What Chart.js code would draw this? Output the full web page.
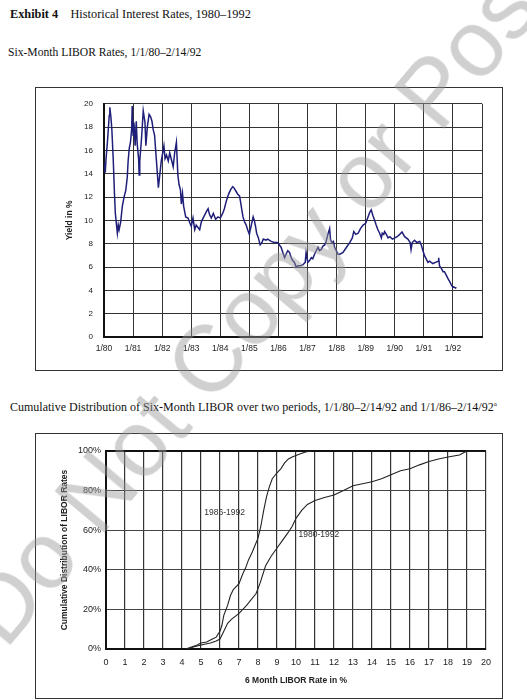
<!DOCTYPE html>
<html>
<head>
<meta charset="utf-8">
<script src="https://cdn.jsdelivr.net/npm/chart.js"></script>
<style>
  html, body { margin: 0; padding: 0; background: #fff; }
  body { width: 527px; height: 700px; position: relative; overflow: hidden; }
  .serif { position: absolute; font-family: "Liberation Serif", serif; color: #111; white-space: nowrap; }
  .box { position: absolute; border: 1px solid #333; box-sizing: border-box; }
  canvas { position: absolute; }
  .mark {
    position: absolute; left: 258px; top: 300px;
    font-family: "Liberation Sans", Arial, sans-serif; font-size: 94px;
    color: rgba(150, 150, 150, 0.45); white-space: nowrap;
    transform: translate(-50%, -50%) rotate(-50deg);
    pointer-events: none;
  }
</style>
</head>
<body>
<div class="serif" style="left:10px; top:7px; font-size:12.3px;"><b>Exhibit 4</b>&nbsp;&nbsp;&nbsp;&nbsp;Historical Interest Rates, 1980–1992</div>
<div class="serif" style="left:8px; top:46px; font-size:11.6px;">Six-Month LIBOR Rates, 1/1/80–2/14/92</div>
<div class="box" style="left:35px; top:87px; width:468px; height:284px;"></div>
<canvas id="rateChart" width="467" height="282" style="left:35px; top:88px;"></canvas>

<div class="serif" style="left:10px; top:400px; font-size:12px;">Cumulative Distribution of Six-Month LIBOR over two periods, 1/1/80–2/14/92 and 1/1/86–2/14/92<sup style="font-size:7px;">a</sup></div>
<div class="box" style="left:35px; top:433px; width:468px; height:266px;"></div>
<canvas id="cdfChart" width="467" height="264" style="left:35px; top:434px;"></canvas>

<div class="mark">Do Not Copy or Post</div>

<script>
// six-month LIBOR, dates as decimal years
const rateDates = [
  1980.00, 1980.03, 1980.05, 1980.07, 1980.12, 1980.18, 1980.20, 1980.24, 1980.27, 1980.32,
  1980.36, 1980.39, 1980.43, 1980.46, 1980.49, 1980.52, 1980.57, 1980.63, 1980.69, 1980.75,
  1980.80, 1980.83, 1980.87, 1980.91, 1980.95, 1980.97, 1981.00, 1981.03, 1981.07, 1981.11,
  1981.14, 1981.19, 1981.21, 1981.23, 1981.29, 1981.35, 1981.41, 1981.44, 1981.49, 1981.55,
  1981.60, 1981.65, 1981.69, 1981.74, 1981.78, 1981.83, 1981.87, 1981.91, 1981.97, 1982.02,
  1982.06, 1982.10, 1982.15, 1982.21, 1982.26, 1982.32, 1982.38, 1982.43, 1982.49, 1982.54,
  1982.58, 1982.63, 1982.66, 1982.70, 1982.74, 1982.81, 1982.89, 1982.95, 1983.00, 1983.06,
  1983.12, 1983.17, 1983.29, 1983.35, 1983.43, 1983.53, 1983.58, 1983.63, 1983.69, 1983.76,
  1983.84, 1983.92, 1984.00, 1984.08, 1984.14, 1984.20, 1984.25, 1984.31, 1984.37, 1984.43,
  1984.48, 1984.54, 1984.60, 1984.66, 1984.69, 1984.74, 1984.78, 1984.83, 1984.89, 1984.94,
  1985.00, 1985.03, 1985.08, 1985.13, 1985.17, 1985.21, 1985.25, 1985.31, 1985.37, 1985.43,
  1985.48, 1985.57, 1985.63, 1985.75, 1985.86, 1985.98, 1986.03, 1986.09, 1986.15, 1986.21,
  1986.26, 1986.32, 1986.38, 1986.44, 1986.49, 1986.55, 1986.61, 1986.67, 1986.76, 1986.84,
  1986.92, 1986.95, 1987.01, 1987.07, 1987.13, 1987.18, 1987.24, 1987.30, 1987.36, 1987.41,
  1987.47, 1987.53, 1987.59, 1987.64, 1987.70, 1987.76, 1987.79, 1987.84, 1987.89, 1987.93,
  1987.99, 1988.05, 1988.11, 1988.22, 1988.34, 1988.45, 1988.54, 1988.59, 1988.66, 1988.74,
  1988.82, 1988.91, 1989.00, 1989.08, 1989.14, 1989.19, 1989.25, 1989.31, 1989.36, 1989.42,
  1989.48, 1989.54, 1989.57, 1989.62, 1989.65, 1989.71, 1989.77, 1989.83, 1989.92, 1990.00,
  1990.08, 1990.17, 1990.25, 1990.34, 1990.45, 1990.53, 1990.56, 1990.60, 1990.68, 1990.76,
  1990.86, 1990.91, 1990.97, 1991.02, 1991.08, 1991.14, 1991.20, 1991.25, 1991.31, 1991.40,
  1991.49, 1991.51, 1991.54, 1991.60, 1991.66, 1991.71, 1991.77, 1991.83, 1991.89, 1991.94,
  1992.00, 1992.03, 1992.09, 1992.12
];
const rateValues = [
  14.2, 14.6, 14.4, 15.3, 16.8, 19.0, 19.7, 18.8, 17.8, 15.1,
  12.3, 10.6, 9.6, 8.9, 9.6, 9.2, 9.8, 11.2, 12.0, 12.6,
  13.7, 15.1, 16.2, 16.7, 17.8, 19.8, 17.3, 18.4, 16.4, 18.5,
  16.6, 15.3, 13.9, 15.1, 17.0, 19.4, 18.4, 16.4, 18.0, 19.1,
  18.9, 18.5, 17.8, 17.3, 15.9, 14.2, 12.8, 13.7, 15.1, 15.8,
  16.4, 15.3, 15.6, 15.1, 15.8, 15.2, 14.6, 15.8, 16.7, 13.9,
  13.1, 12.6, 11.4, 12.3, 11.2, 10.3, 10.2, 9.8, 9.5, 10.2,
  9.2, 9.6, 9.2, 9.9, 10.3, 10.8, 11.0, 10.5, 10.2, 10.6,
  10.1, 10.3, 10.2, 10.6, 11.0, 11.6, 12.0, 12.4, 12.7, 12.9,
  12.75, 12.5, 12.25, 12.1, 11.7, 10.9, 10.3, 9.9, 9.6, 9.2,
  8.8, 9.2, 9.75, 10.3, 10.0, 9.5, 8.9, 8.5, 7.9, 8.1,
  8.4, 8.3, 8.4, 8.2, 8.1, 8.1, 7.9, 7.7, 7.25, 6.8,
  7.1, 7.4, 7.25, 6.8, 6.55, 6.4, 6.0, 6.1, 6.1, 6.2,
  6.4, 7.25, 6.4, 6.55, 6.8, 6.7, 7.1, 7.4, 7.7, 7.4,
  7.5, 7.8, 7.9, 8.2, 8.8, 9.3, 8.35, 8.1, 8.2, 7.7,
  7.4, 7.1, 7.1, 7.25, 7.7, 8.1, 8.5, 9.05, 8.8, 8.9,
  9.3, 9.6, 9.75, 10.3, 10.7, 10.9, 10.4, 10.0, 9.6, 9.2,
  8.9, 8.5, 8.9, 8.8, 9.05, 8.8, 8.5, 8.6, 8.4, 8.5,
  8.6, 8.8, 9.0, 8.6, 8.4, 8.1, 7.5, 8.1, 8.3, 8.1,
  8.2, 7.9, 7.4, 7.0, 6.7, 6.4, 6.5, 6.4, 6.3, 6.4,
  6.5, 6.8, 6.1, 5.9, 5.6, 5.6, 5.3, 5.0, 4.75, 4.5,
  4.25, 4.3, 4.2, 4.25
];
const yearTicks = [1980, 1981, 1982, 1983, 1984, 1985, 1986, 1987, 1988, 1989, 1990, 1991, 1992];

// cumulative distribution, rate in % -> share of days in %
const cdfRecentRates = [4.2, 4.5, 4.8, 5.0, 5.3, 5.6, 5.8, 6.0, 6.1, 6.2, 6.4, 6.55, 6.7, 6.85, 7.0,
  7.2, 7.35, 7.5, 7.7, 8.0, 8.15, 8.3, 8.45, 8.6, 8.75, 9.0, 9.2, 9.4, 9.6, 9.8, 10.2, 10.5, 10.8];
const cdfRecentPct = [0, 1, 2, 3, 3.5, 5, 6, 9, 12, 17, 22, 27, 30, 31.5, 33,
  38, 41, 45, 49, 56, 62, 70, 77, 82, 86, 89, 91, 94, 96, 97, 98.5, 99.5, 100];
const cdfAllRates = [4.3, 4.6, 5.0, 5.5, 5.8, 6.0, 6.2, 6.4, 6.6, 7.0, 7.4, 7.9, 8.1, 8.4, 8.7, 9.0,
  9.3, 9.6, 9.8, 10.0, 10.3, 10.6, 11.0, 11.5, 12.0, 12.5, 13.0, 13.5, 14.0, 14.5, 15.0, 15.5,
  16.0, 16.5, 17.0, 17.5, 18.0, 18.6, 19.0, 20.0];
const cdfAllPct = [0, 1, 2, 3, 4, 5, 9, 13, 15, 18, 22, 28, 33, 42, 47, 51,
  55, 59, 62, 66, 70, 73, 75, 76.5, 77.8, 80, 82.5, 83.5, 84.5, 86, 88, 90,
  91, 93, 94.7, 96, 97, 98, 100, 100];
const periodLabels = ["1986-1992", "1980-1992"];

const SANS = "'Liberation Sans', Arial, sans-serif";

const zip = (xs, ys) => xs.map((x, i) => ({ x: x, y: ys[i] }));

new Chart(document.getElementById("rateChart"), {
  type: "line",
  data: {
    datasets: [{
      data: zip(rateDates, rateValues),
      borderColor: "#1f1f7a",
      borderWidth: 1.5,
      pointRadius: 0,
      tension: 0,
    }],
  },
  options: {
    responsive: false,
    animation: false,
    layout: { padding: { left: 0, right: 20, top: 9, bottom: 0 } },
    plugins: { legend: { display: false }, tooltip: { enabled: false } },
    scales: {
      x: {
        type: "linear",
        min: 1980,
        max: 1993,
        afterBuildTicks: (scale) => {
          scale.ticks = yearTicks.concat([1993]).map((v) => ({ value: v }));
        },
        afterFit: (scale) => { scale.height = 33; },
        ticks: {
          autoSkip: false,
          maxRotation: 0,
          padding: 7,
          color: "#222",
          font: { family: SANS, size: 8.5 },
          callback: (v) => (yearTicks.includes(v) ? "1/" + String(v).slice(2) : ""),
        },
        grid: { color: "#333", lineWidth: 1, drawTicks: false },
        border: { color: "#111", width: 2 },
      },
      y: {
        min: 0,
        max: 20,
        afterFit: (scale) => { scale.width = 69; },
        ticks: { stepSize: 2, padding: 11, color: "#222", font: { family: SANS, size: 8 } },
        grid: { color: "#333", lineWidth: 1, drawTicks: false },
        border: { color: "#111", width: 2 },
        title: {
          display: true,
          text: "Yield in %",
          color: "#222",
          padding: { top: 30, bottom: 0 },
          font: { family: SANS, size: 8.5, weight: "bold" },
        },
      },
    },
  },
});

const periodLabelPlugin = {
  id: "periodLabels",
  afterDatasetsDraw(chart) {
    const { ctx, scales } = chart;
    ctx.save();
    ctx.fillStyle = "#333";
    ctx.font = "8.5px " + SANS;
    ctx.textAlign = "center";
    ctx.textBaseline = "middle";
    ctx.fillText(periodLabels[0], scales.x.getPixelForValue(6.24), scales.y.getPixelForValue(68.7));
    ctx.fillText(periodLabels[1], scales.x.getPixelForValue(11.2), scales.y.getPixelForValue(58));
    ctx.restore();
  },
};

new Chart(document.getElementById("cdfChart"), {
  type: "line",
  data: {
    datasets: [
      { data: zip(cdfRecentRates, cdfRecentPct), borderColor: "#222", borderWidth: 1.1, pointRadius: 0, tension: 0 },
      { data: zip(cdfAllRates, cdfAllPct), borderColor: "#222", borderWidth: 1.1, pointRadius: 0, tension: 0 },
    ],
  },
  plugins: [periodLabelPlugin],
  options: {
    responsive: false,
    animation: false,
    layout: { padding: { left: 0, right: 16, top: 17, bottom: 0 } },
    plugins: { legend: { display: false }, tooltip: { enabled: false } },
    scales: {
      x: {
        type: "linear",
        min: 0,
        max: 20,
        afterFit: (scale) => { scale.height = 49; },
        ticks: { stepSize: 1, autoSkip: false, maxRotation: 0, padding: 8, color: "#222", font: { family: SANS, size: 9 } },
        grid: { color: "#333", lineWidth: 1.2, drawTicks: false },
        border: { color: "#111", width: 2 },
        title: {
          display: true,
          text: "6 Month LIBOR Rate in %",
          color: "#222",
          padding: { top: 0, bottom: 12 },
          font: { family: SANS, size: 8.5, weight: "bold" },
        },
      },
      y: {
        min: 0,
        max: 100,
        afterFit: (scale) => { scale.width = 71; },
        ticks: { stepSize: 20, padding: 5, color: "#222", font: { family: SANS, size: 9 }, callback: (v) => v + "%" },
        grid: {
          color: (c) => (c.tick && c.tick.value === 100 ? "#111" : "#444"),
          lineWidth: (c) => (c.tick && c.tick.value === 100 ? 2 : 1),
          drawTicks: false,
        },
        border: { color: "#111", width: 2 },
        title: {
          display: true,
          text: "Cumulative Distribution of LIBOR Rates",
          color: "#222",
          padding: { top: 25, bottom: 0 },
          font: { family: SANS, size: 8.5, weight: "bold" },
        },
      },
    },
  },
});
</script>
</body>
</html>
